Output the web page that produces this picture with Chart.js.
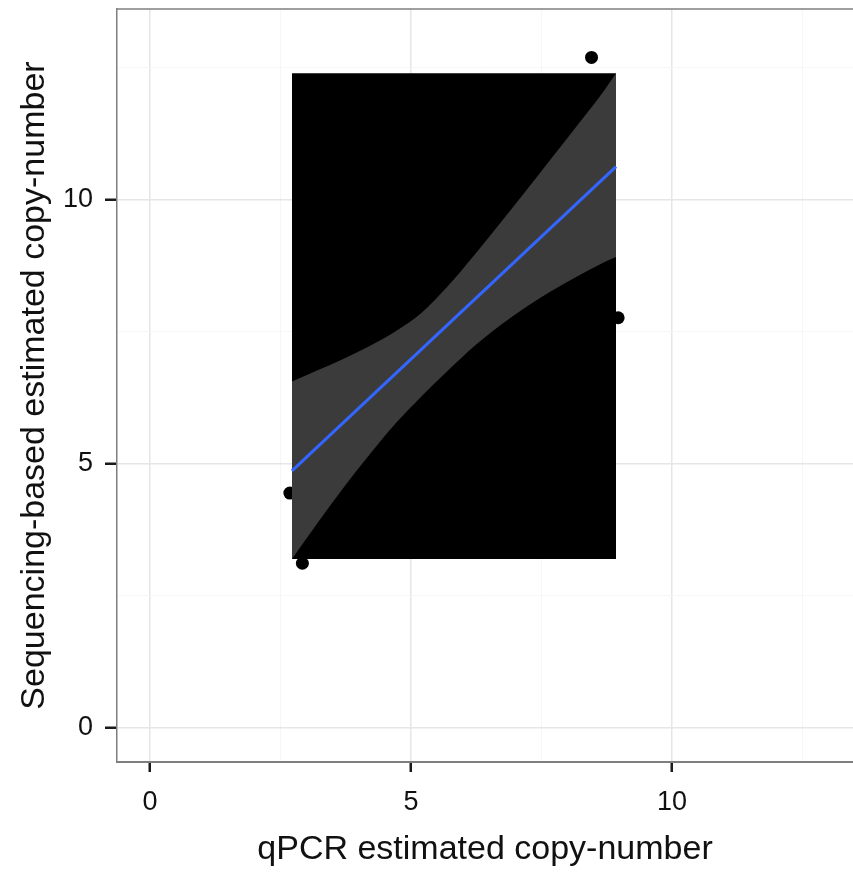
<!DOCTYPE html>
<html>
<head>
<meta charset="utf-8">
<script src="https://cdn.jsdelivr.net/npm/chart.js@4"></script>
<style>
  html, body { margin: 0; padding: 0; background: #ffffff; }
  canvas { display: block; }
</style>
</head>
<body>
<canvas id="c" width="853" height="873"></canvas>
<script>
// Observed points (visible ones)
const pointX = [2.68, 2.92, 8.46, 8.97];
const pointY = [4.45, 3.12, 12.70, 7.77];

// Fitted regression line
const fitX = [2.72, 8.93];
const fitY = [4.87, 10.63];

// Confidence band
const bandX     = [2.72, 3.2, 3.7, 4.2, 4.7, 5.2, 5.7, 6.2, 6.7, 7.2, 7.7, 8.2, 8.7, 8.93];
const bandUpper = [6.56, 6.77, 6.99, 7.23, 7.51, 7.86, 8.36, 8.94, 9.55, 10.17, 10.80, 11.43, 12.07, 12.40];
const bandLower = [3.20, 3.87, 4.54, 5.17, 5.76, 6.28, 6.76, 7.22, 7.62, 7.97, 8.28, 8.56, 8.82, 8.92];

// Black box spanning the band extent
const boxX = [2.72, 8.93];
const boxTop = [12.40, 12.40];
const boxBottom = [3.20, 3.20];

// Axis ticks
const majorTicks = [0, 5, 10];
const xLimits = [-0.632, 13.47];
const yLimits = [-0.644, 13.617];
const xTitle = 'qPCR estimated copy-number';
const yTitle = 'Sequencing-based estimated copy-number';

const zip = (xs, ys) => xs.map((x, i) => ({x: x, y: ys[i]}));
const isMajor = v => majorTicks.some(m => Math.abs(m - v) < 1e-6);

const borderPlugin = {
  id: 'panelBorder',
  afterDraw(chart) {
    const {ctx, chartArea: a} = chart;
    ctx.save();
    ctx.strokeStyle = '#7f7f7f';
    ctx.lineWidth = 1.5;
    ctx.beginPath();
    ctx.moveTo(a.left, a.top);
    ctx.lineTo(a.right, a.top);
    ctx.stroke();
    ctx.restore();
  }
};

function gridColor(ctx) {
  if (!ctx.tick) return 'rgba(0,0,0,0)';
  return isMajor(ctx.tick.value) ? '#e6e6e6' : '#f6f6f6';
}
function gridWidth(ctx) {
  if (!ctx.tick) return 1;
  return isMajor(ctx.tick.value) ? 1.5 : 1;
}
function tickColor(ctx) {
  if (!ctx.tick) return 'rgba(0,0,0,0)';
  return isMajor(ctx.tick.value) ? '#1a1a1a' : 'rgba(0,0,0,0)';
}
const tickLabel = v => isMajor(v) ? String(Math.round(v)) : '';
const FONT = 'Liberation Sans, Arial, sans-serif';

new Chart(document.getElementById('c'), {
  type: 'scatter',
  data: {
    datasets: [
      {
        type: 'line', label: 'fit', data: zip(fitX, fitY),
        borderColor: '#3366ff', borderWidth: 3, pointRadius: 0,
        fill: false, order: 0
      },
      {
        type: 'line', label: 'upper', data: zip(bandX, bandUpper),
        borderColor: 'rgba(0,0,0,0)', borderWidth: 0, pointRadius: 0,
        backgroundColor: '#3b3b3b', fill: '+1', cubicInterpolationMode: 'monotone',
        order: 1
      },
      {
        type: 'line', label: 'lower', data: zip(bandX, bandLower),
        borderColor: 'rgba(0,0,0,0)', borderWidth: 0, pointRadius: 0,
        fill: false, cubicInterpolationMode: 'monotone', order: 1
      },
      {
        type: 'line', label: 'boxTop', data: zip(boxX, boxTop),
        borderColor: '#000000', borderWidth: 0, pointRadius: 0,
        backgroundColor: '#000000', fill: '+1', order: 2
      },
      {
        type: 'line', label: 'boxBottom', data: zip(boxX, boxBottom),
        borderColor: '#000000', borderWidth: 0, pointRadius: 0,
        fill: false, order: 2
      },
      {
        type: 'scatter', label: 'points', data: zip(pointX, pointY),
        backgroundColor: '#000000', borderColor: '#000000', borderWidth: 0,
        pointRadius: 6.5, order: 3
      }
    ]
  },
  options: {
    responsive: false,
    animation: false,
    layout: { autoPadding: false, padding: { top: 9, right: 0, left: 0, bottom: 0 } },
    plugins: { legend: { display: false }, tooltip: { enabled: false } },
    scales: {
      x: {
        type: 'linear', min: xLimits[0], max: xLimits[1],
        afterFit(s) { s.height = 111; s.paddingLeft = 0; s.paddingRight = 0; s.paddingTop = 0; s.paddingBottom = 0; },
        ticks: {
          stepSize: 2.5, includeBounds: false, autoSkip: false, maxRotation: 0,
          callback: tickLabel, color: '#111111', padding: 14,
          font: { family: FONT, size: 27 }
        },
        grid: { color: gridColor, lineWidth: gridWidth, tickColor: tickColor, tickLength: 10, tickWidth: 2.5 },
        border: { display: true, color: '#7f7f7f', width: 2 },
        title: {
          display: true, text: xTitle, color: '#111111',
          font: { family: FONT, size: 34 },
          padding: { top: 0, bottom: 3 }
        }
      },
      y: {
        type: 'linear', min: yLimits[0], max: yLimits[1],
        afterFit(s) { s.width = 117; s.paddingLeft = 0; s.paddingRight = 0; s.paddingTop = 0; s.paddingBottom = 0; },
        ticks: {
          stepSize: 2.5, includeBounds: false, autoSkip: false,
          callback: tickLabel, color: '#111111', padding: 12,
          font: { family: FONT, size: 27 }
        },
        grid: { color: gridColor, lineWidth: gridWidth, tickColor: tickColor, tickLength: 12, tickWidth: 2.5 },
        border: { display: true, color: '#7f7f7f', width: 1.5 },
        title: {
          display: true, text: yTitle, color: '#111111',
          font: { family: FONT, size: 34 },
          padding: { top: 14, bottom: 0 }
        }
      }
    }
  },
  plugins: [borderPlugin]
});
</script>
</body>
</html>
